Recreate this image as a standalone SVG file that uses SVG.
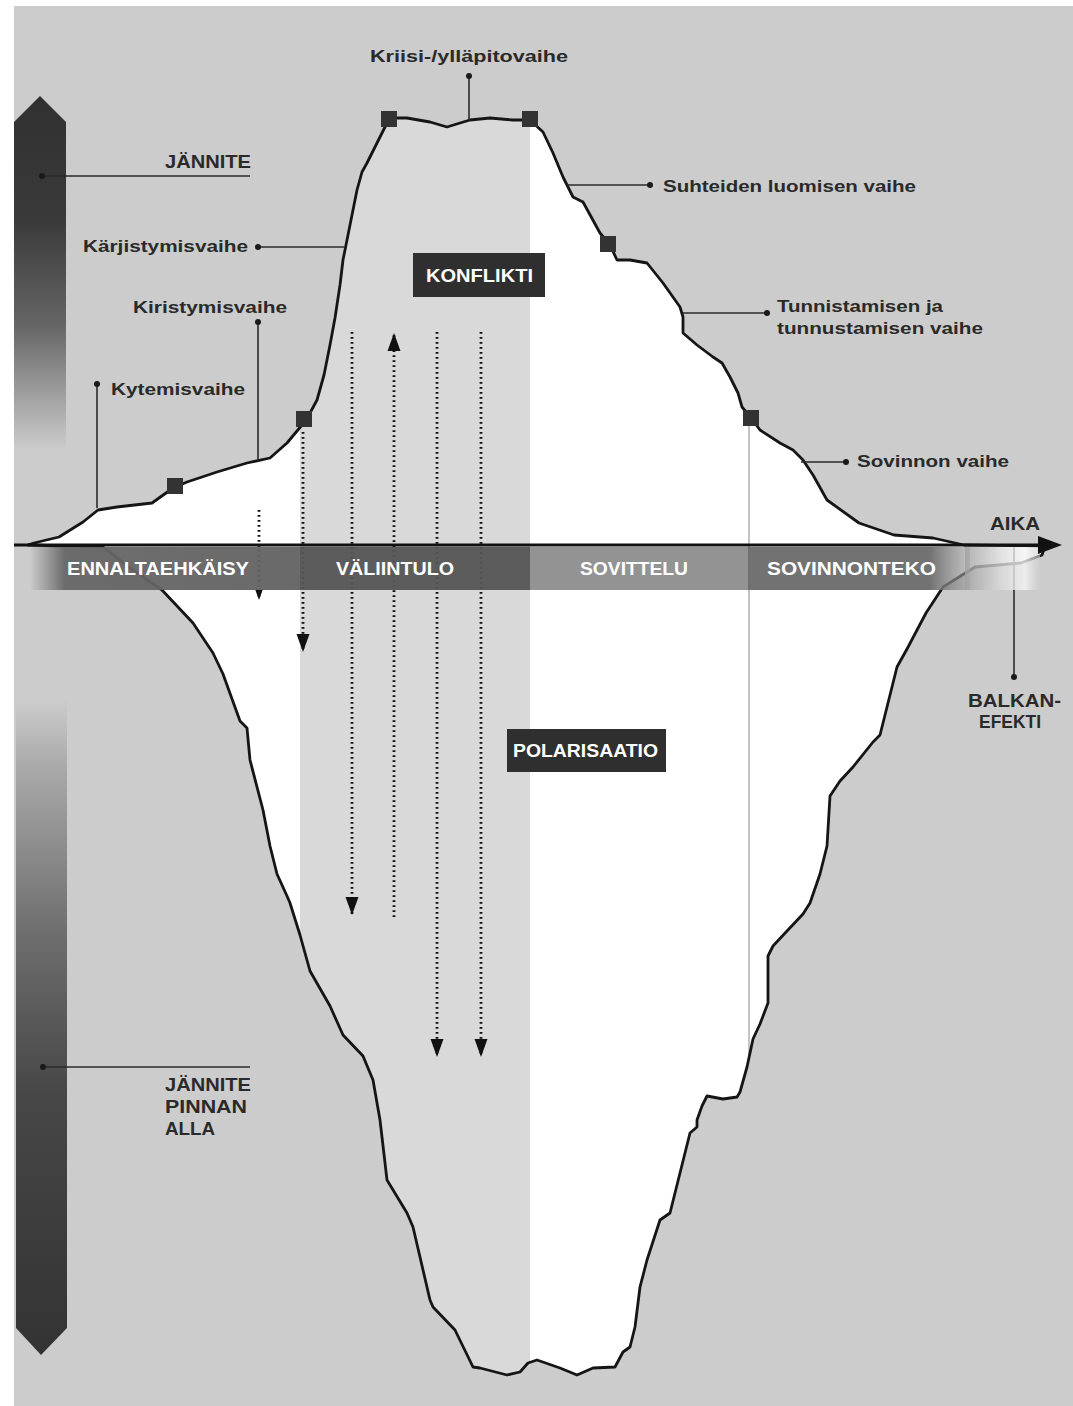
<svg xmlns="http://www.w3.org/2000/svg" width="1073" height="1406" viewBox="0 0 1073 1406">
<style>
.lbl{font-family:"Liberation Sans",Arial,sans-serif;font-weight:bold;font-size:17px;fill:#2a2a2a}
.cap{font-family:"Liberation Sans",Arial,sans-serif;font-weight:bold;font-size:18px;fill:#2a2a2a}
.band{font-family:"Liberation Sans",Arial,sans-serif;font-weight:bold;font-size:18px;fill:#ffffff}
.lead{stroke:#2a2a2a;stroke-width:1.6;fill:none}
.dot{fill:#1a1a1a}
.sq{fill:#333333}
.dots{stroke:#111111;stroke-width:2.8;stroke-dasharray:1.8 3.2;fill:none}
.box{fill:#2f2f2f}
</style>
<defs>
<linearGradient id="gTop" gradientUnits="userSpaceOnUse" x1="0" y1="96" x2="0" y2="450">
<stop offset="0" stop-color="#303030"/><stop offset="0.35" stop-color="#3a3a3a"/><stop offset="0.65" stop-color="#666666"/><stop offset="0.88" stop-color="#aaaaaa"/><stop offset="1" stop-color="#cccccc"/>
</linearGradient>
<linearGradient id="gBot" gradientUnits="userSpaceOnUse" x1="0" y1="700" x2="0" y2="1355">
<stop offset="0" stop-color="#cccccc"/><stop offset="0.1" stop-color="#aaaaaa"/><stop offset="0.35" stop-color="#6f6f6f"/><stop offset="0.6" stop-color="#474747"/><stop offset="1" stop-color="#333333"/>
</linearGradient>
<linearGradient id="gBandL" gradientUnits="userSpaceOnUse" x1="30" y1="0" x2="300" y2="0">
<stop offset="0" stop-color="#666666" stop-opacity="0"/><stop offset="0.13" stop-color="#666666" stop-opacity="0.95"/><stop offset="1" stop-color="#626262" stop-opacity="0.95"/>
</linearGradient>
<linearGradient id="gBandR" gradientUnits="userSpaceOnUse" x1="748" y1="0" x2="970" y2="0">
<stop offset="0" stop-color="#6b6b6b" stop-opacity="0.95"/><stop offset="0.82" stop-color="#6b6b6b" stop-opacity="0.95"/><stop offset="1" stop-color="#9a9a9a" stop-opacity="0.6"/>
</linearGradient>
<linearGradient id="gBandE" gradientUnits="userSpaceOnUse" x1="965" y1="0" x2="1040" y2="0">
<stop offset="0" stop-color="#a0a0a0" stop-opacity="0.8"/><stop offset="0.5" stop-color="#dcdcdc" stop-opacity="0.8"/><stop offset="0.8" stop-color="#f4f4f4" stop-opacity="0.8"/><stop offset="1" stop-color="#cccccc" stop-opacity="0.6"/>
</linearGradient>
<clipPath id="ice">
<path id="icePath" d="M28,545 L34,543 59,537 83,522 98,510 117,507 152,503 173,488 187,482 217,472 247,463 270,458 287,443 302,425 310,413 317,400 324,375 330,345 335,318 340,285 343,260 347,240 352,215 357,190 362,172 367,163 377,143 385,127 390,118 407,118 430,122 447,127 460,123 470,120 490,118 513,120 530,120 543,132 553,153 563,177 573,197 583,202 600,233 610,245 617,260 630,260 647,263 663,283 680,307 683,317 683,333 697,345 713,357 722,363 730,377 738,393 742,407 751,418 760,430 780,443 793,450 803,460 813,475 827,500 859,523 894,535 933,538 964,545 1045,546 1042,555 1021,563 975,567 943,587 926,613 907,649 897,667 888,703 880,735 873,742 853,767 840,781 830,796 827,846 820,874 810,903 803,914 787,931 773,946 768,956 768,1003 760,1024 753,1039 747,1067 740,1092 737,1097 723,1099 707,1096 702,1106 697,1120 697,1127 690,1133 670,1213 660,1220 647,1260 640,1287 635,1327 630,1347 623,1352 615,1367 593,1368 577,1375 560,1368 537,1360 528,1363 520,1372 507,1375 480,1368 473,1367 455,1330 433,1307 430,1300 413,1227 407,1213 387,1180 380,1120 373,1080 363,1056 343,1035 330,1006 310,971 300,935 290,903 287,896 277,874 270,846 263,810 250,760 247,728 240,721 223,674 213,653 193,623 162,590 130,568 103,547 Z"/>
</clipPath>
<marker id="ah" viewBox="0 -7 18 14" refX="18" refY="0" markerWidth="18" markerHeight="14" markerUnits="userSpaceOnUse" orient="auto">
<path d="M0,-6.5 L18,0 L0,6.5 Z" fill="#111111"/>
</marker>
<marker id="ahs" viewBox="0 -5 11 10" refX="11" refY="0" markerWidth="11" markerHeight="10" markerUnits="userSpaceOnUse" orient="auto">
<path d="M0,-4 L11,0 L0,4 Z" fill="#111111"/>
</marker>
</defs>

<rect x="0" y="0" width="1073" height="1406" fill="#ffffff"/>
<rect x="14" y="6" width="1059" height="1400" fill="#cccccc"/>

<g id="tension-bar">
<path d="M14,122 L40,96 L66,122 L66,450 L14,450 Z" fill="url(#gTop)"/>
<path d="M16,700 L67,700 L67,1328 L41,1355 L16,1328 Z" fill="url(#gBot)"/>
</g>

<g id="iceberg">
<use href="#icePath" fill="#ffffff"/>
<g clip-path="url(#ice)">
<rect x="300" y="100" width="230" height="1300" fill="#d9d9d9"/>
<line x1="749" y1="418" x2="749" y2="1100" stroke="#c4c4c4" stroke-width="2"/>
</g>
<use href="#icePath" fill="none" stroke="#151515" stroke-width="2.8" stroke-linejoin="round"/>
</g>

<g id="connectors">
<line class="dots" x1="259" y1="510" x2="259" y2="600" marker-end="url(#ahs)"/>
<line class="dots" x1="303" y1="432" x2="303" y2="652" marker-end="url(#ah)"/>
<line class="dots" x1="352" y1="332" x2="352" y2="915" marker-end="url(#ah)"/>
<line class="dots" x1="394" y1="917" x2="394" y2="333" marker-end="url(#ah)"/>
<line class="dots" x1="437" y1="332" x2="437" y2="1057" marker-end="url(#ah)"/>
<line class="dots" x1="481" y1="332" x2="481" y2="1057" marker-end="url(#ah)"/>
<polyline class="lead" points="42,176 250,176"/>
<polyline class="lead" points="258,247 344,247"/>
<polyline class="lead" points="258,322 258,460"/>
<polyline class="lead" points="97,384 97,508"/>
<polyline class="lead" points="469,76 469,120"/>
<polyline class="lead" points="567,185 650,185"/>
<polyline class="lead" points="683,313 767,313"/>
<polyline class="lead" points="801,462 846,462"/>
<polyline class="lead" points="1014,546 1014,677"/>
<polyline class="lead" points="43,1067 250,1067"/>
</g>

<g id="band">
<rect x="30" y="547" width="270" height="43" fill="url(#gBandL)"/>
<rect x="300" y="547" width="230" height="43" fill="#555555" fill-opacity="0.95"/>
<rect x="530" y="547" width="218" height="43" fill="#8d8d8d" fill-opacity="0.95"/>
<rect x="748" y="547" width="222" height="43" fill="url(#gBandR)"/>
<rect x="965" y="547" width="75" height="43" fill="url(#gBandE)"/>
<text class="band" x="67" y="575" textLength="182" lengthAdjust="spacingAndGlyphs">ENNALTAEHKÄISY</text>
<text class="band" x="336" y="575" textLength="118" lengthAdjust="spacingAndGlyphs">VÄLIINTULO</text>
<text class="band" x="580" y="575" textLength="108" lengthAdjust="spacingAndGlyphs">SOVITTELU</text>
<text class="band" x="767" y="575" textLength="169" lengthAdjust="spacingAndGlyphs">SOVINNONTEKO</text>
</g>

<g id="axis">
<line x1="14" y1="545" x2="1042" y2="545" stroke="#111111" stroke-width="3"/>
<path d="M1038,536 L1062,545 L1038,554 Z" fill="#111111"/>
<text class="cap" x="990" y="530" textLength="50" lengthAdjust="spacingAndGlyphs">AIKA</text>
</g>

<g id="squares">
<rect class="sq" x="167" y="478" width="16" height="16"/>
<rect class="sq" x="296" y="411" width="16" height="16"/>
<rect class="sq" x="381" y="111" width="16" height="16"/>
<rect class="sq" x="522" y="111" width="16" height="16"/>
<rect class="sq" x="600" y="236" width="16" height="16"/>
<rect class="sq" x="743" y="410" width="16" height="16"/>
</g>

<g id="dots">
<circle class="dot" cx="42" cy="176" r="3"/>
<circle class="dot" cx="258" cy="247" r="3"/>
<circle class="dot" cx="258" cy="322" r="3"/>
<circle class="dot" cx="97" cy="384" r="3"/>
<circle class="dot" cx="469" cy="76" r="3"/>
<circle class="dot" cx="650" cy="185" r="3"/>
<circle class="dot" cx="767" cy="313" r="3"/>
<circle class="dot" cx="846" cy="462" r="3"/>
<circle class="dot" cx="1014" cy="677" r="3"/>
<circle class="dot" cx="43" cy="1067" r="3"/>
</g>

<g id="label-jannite"><text class="cap" x="165" y="168" textLength="86" lengthAdjust="spacingAndGlyphs">JÄNNITE</text></g>
<g id="label-karjistymis"><text class="lbl" x="83" y="252" textLength="165" lengthAdjust="spacingAndGlyphs">Kärjistymisvaihe</text></g>
<g id="label-kiristymis"><text class="lbl" x="133" y="313" textLength="154" lengthAdjust="spacingAndGlyphs">Kiristymisvaihe</text></g>
<g id="label-kytemis"><text class="lbl" x="111" y="395" textLength="134" lengthAdjust="spacingAndGlyphs">Kytemisvaihe</text></g>
<g id="label-kriisi"><text class="lbl" x="370" y="62" textLength="198" lengthAdjust="spacingAndGlyphs">Kriisi-/ylläpitovaihe</text></g>
<g id="label-suhteiden"><text class="lbl" x="663" y="192" textLength="253" lengthAdjust="spacingAndGlyphs">Suhteiden luomisen vaihe</text></g>
<g id="label-tunnistamisen">
<text class="lbl" x="777" y="312" textLength="166" lengthAdjust="spacingAndGlyphs">Tunnistamisen ja</text>
<text class="lbl" x="777" y="334" textLength="206" lengthAdjust="spacingAndGlyphs">tunnustamisen vaihe</text>
</g>
<g id="label-sovinnon"><text class="lbl" x="857" y="467" textLength="152" lengthAdjust="spacingAndGlyphs">Sovinnon vaihe</text></g>
<g id="label-balkan">
<text class="cap" x="968" y="707" textLength="93" lengthAdjust="spacingAndGlyphs">BALKAN-</text>
<text class="cap" x="979" y="728" textLength="62" lengthAdjust="spacingAndGlyphs">EFEKTI</text>
</g>
<g id="label-jannite-alla">
<text class="cap" x="165" y="1091" textLength="86" lengthAdjust="spacingAndGlyphs">JÄNNITE</text>
<text class="cap" x="165" y="1113" textLength="82" lengthAdjust="spacingAndGlyphs">PINNAN</text>
<text class="cap" x="165" y="1135" textLength="50" lengthAdjust="spacingAndGlyphs">ALLA</text>
</g>
<g id="box-konflikti">
<rect class="box" x="413" y="253" width="132" height="44"/>
<text class="band" x="426" y="282" textLength="107" lengthAdjust="spacingAndGlyphs">KONFLIKTI</text>
</g>
<g id="box-polarisaatio">
<rect class="box" x="507" y="729" width="159" height="43"/>
<text class="band" x="513" y="757" textLength="145" lengthAdjust="spacingAndGlyphs">POLARISAATIO</text>
</g>
</svg>
